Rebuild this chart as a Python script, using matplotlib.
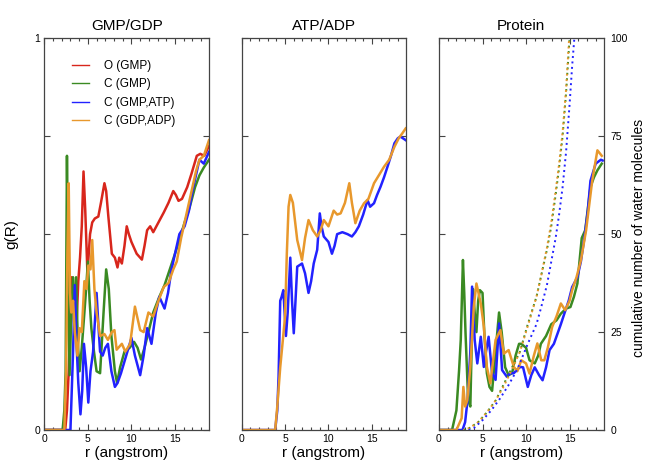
import matplotlib
matplotlib.use('Agg')
import matplotlib.pyplot as plt
from matplotlib.ticker import MultipleLocator
from matplotlib.lines import Line2D

plt.rcParams['font.family'] = ['Liberation Sans', 'DejaVu Sans']

# ---------------- data ----------------
titles = ['GMP/GDP', 'ATP/ADP', 'Protein']
labels = ['O (GMP)', 'C (GMP)', 'C (GMP,ATP)', 'C (GDP,ADP)']
colors = ['#d8261c', '#3a8a22', '#2222ff', '#e8982c']

# Panel 1: GMP/GDP
p1_red_r = [0, 2.4, 2.6, 2.8, 3.0, 3.15, 3.3, 3.5, 3.7, 3.9, 4.1, 4.3, 4.5, 4.7, 4.95, 5.25, 5.5, 5.8,
            6.2, 6.5, 6.9, 7.1, 7.35, 7.75, 8.1, 8.4, 8.6, 8.9, 9.2, 9.46, 9.7, 10.0, 10.6, 11.2, 11.5,
            11.8, 12.15, 12.5, 13.1, 13.7, 14.25, 14.8, 15.1, 15.4, 15.8, 16.4, 16.9, 17.5, 17.9, 18.35, 18.9]
p1_red_g = [0, 0, 0.05, 0.15, 0.30, 0.39, 0.33, 0.24, 0.27, 0.38, 0.44, 0.52, 0.66, 0.56, 0.40, 0.50, 0.53, 0.54,
            0.545, 0.58, 0.63, 0.61, 0.545, 0.45, 0.44, 0.415, 0.44, 0.425, 0.47, 0.52, 0.50, 0.48, 0.45, 0.435, 0.47,
            0.51, 0.52, 0.505, 0.53, 0.555, 0.58, 0.61, 0.60, 0.585, 0.59, 0.62, 0.655, 0.70, 0.705, 0.70, 0.725]

p1_green_r = [0, 2.1, 2.3, 2.45, 2.6, 2.75, 2.9, 3.1, 3.3, 3.45, 3.65, 3.85, 4.05, 4.3, 4.6, 4.8, 5.0, 5.2,
              5.4, 5.7, 6.0, 6.4, 6.8, 7.1, 7.4, 7.7, 8.1, 8.35, 8.7, 9.2, 9.8, 10.3, 10.7, 11.1, 11.5, 11.9,
              12.5, 13.2, 13.8, 14.4, 15.0, 15.5, 16.1, 16.7, 17.3, 17.8, 18.3, 18.9]
p1_green_g = [0, 0, 0.05, 0.15, 0.70, 0.35, 0.14, 0.30, 0.39, 0.26, 0.39, 0.22, 0.15, 0.21, 0.30, 0.36, 0.43, 0.33,
              0.26, 0.20, 0.15, 0.145, 0.30, 0.41, 0.36, 0.24, 0.15, 0.12, 0.16, 0.20, 0.21, 0.225, 0.21, 0.18, 0.21, 0.245,
              0.30, 0.34, 0.37, 0.41, 0.45, 0.485, 0.53, 0.57, 0.62, 0.65, 0.67, 0.69]

p1_blue_r = [0, 3.0, 3.15, 3.3, 3.5, 3.7, 3.9, 4.15, 4.35, 4.55, 4.8, 5.05, 5.3, 5.6, 6.0, 6.2, 6.4, 6.7, 7.0,
             7.3, 7.7, 8.1, 8.4, 8.8, 9.4, 10.0, 10.4, 11.0, 11.4, 11.8, 12.3, 12.8, 13.2, 13.8, 14.2, 14.6, 15.1,
             15.5, 16.1, 16.6, 17.0, 17.5, 17.8, 18.3, 18.9]
p1_blue_g = [0, 0, 0.10, 0.20, 0.37, 0.22, 0.12, 0.04, 0.10, 0.22, 0.16, 0.07, 0.15, 0.20, 0.35, 0.27, 0.20, 0.19, 0.21,
             0.22, 0.15, 0.11, 0.12, 0.145, 0.19, 0.235, 0.19, 0.14, 0.19, 0.26, 0.22, 0.30, 0.34, 0.31, 0.35, 0.41, 0.46,
             0.50, 0.52, 0.56, 0.61, 0.66, 0.69, 0.68, 0.71]

p1_orange_r = [0, 2.3, 2.5, 2.65, 2.8, 2.95, 3.1, 3.3, 3.5, 3.8, 4.05, 4.3, 4.6, 4.85, 5.05, 5.3, 5.5, 5.75,
               6.0, 6.4, 6.9, 7.3, 7.75, 8.05, 8.3, 8.9, 9.3, 9.85, 10.4, 11.0, 11.4, 11.95, 12.5, 13.1, 13.7,
               14.25, 14.8, 15.2, 15.7, 16.3, 16.9, 17.4, 17.8, 18.3, 18.6, 18.9]
p1_orange_g = [0, 0, 0.15, 0.45, 0.63, 0.35, 0.30, 0.33, 0.25, 0.19, 0.26, 0.25, 0.38, 0.36, 0.42, 0.41, 0.485, 0.36,
               0.30, 0.24, 0.245, 0.23, 0.25, 0.255, 0.205, 0.22, 0.20, 0.22, 0.315, 0.255, 0.25, 0.30, 0.29, 0.33, 0.365,
               0.375, 0.41, 0.43, 0.49, 0.55, 0.61, 0.66, 0.69, 0.70, 0.72, 0.74]

# Panel 2: ATP/ADP
p2_blue_r = [0, 3.86, 4.1, 4.25, 4.44, 4.6, 4.8, 5.1, 5.3, 5.6, 5.8, 6.0, 6.2, 6.4, 6.95, 7.3, 7.7, 8.0, 8.3,
             8.7, 9.0, 9.2, 9.46, 10.0, 10.4, 10.7, 11.0, 11.6, 12.2, 12.7, 13.1, 13.5, 14.0, 14.5, 14.8, 15.25,
             15.6, 16.0, 16.4, 16.8, 17.2, 17.6, 18.0, 18.3, 18.9]
p2_blue_g = [0, 0, 0.05, 0.136, 0.33, 0.34, 0.357, 0.24, 0.30, 0.44, 0.33, 0.247, 0.33, 0.417, 0.425, 0.40, 0.35, 0.38, 0.425,
             0.46, 0.553, 0.52, 0.494, 0.48, 0.45, 0.47, 0.50, 0.505, 0.50, 0.494, 0.505, 0.52, 0.55, 0.587, 0.57, 0.579,
             0.60, 0.621, 0.645, 0.672, 0.70, 0.732, 0.745, 0.749, 0.74]

p2_orange_r = [0, 3.86, 4.1, 4.44, 4.7, 5.0, 5.2, 5.4, 5.6, 5.9, 6.4, 6.95, 7.3, 7.7, 8.2, 8.7, 9.1, 9.46,
               10.0, 10.6, 11.0, 11.4, 11.9, 12.4, 12.7, 13.1, 13.6, 14.1, 14.6, 15.25, 15.8, 16.4, 17.0, 17.6,
               18.1, 18.5, 18.9]
p2_orange_g = [0, 0, 0.06, 0.16, 0.22, 0.29, 0.45, 0.57, 0.60, 0.58, 0.485, 0.434, 0.49, 0.536, 0.51, 0.494, 0.51, 0.536,
               0.52, 0.56, 0.55, 0.553, 0.58, 0.63, 0.58, 0.528, 0.56, 0.579, 0.59, 0.63, 0.65, 0.672, 0.69, 0.723,
               0.745, 0.757, 0.77]

# Panel 3: Protein (solid = g(R), dotted = cumulative number, right axis)
p3_green_r = [0, 1.5, 2.0, 2.3, 2.5, 2.75, 2.9, 3.05, 3.35, 3.6, 3.9, 4.1, 4.3, 4.5, 4.7, 5.0, 5.2, 5.5, 5.8,
              6.1, 6.5, 6.9, 7.2, 7.6, 8.0, 8.4, 8.8, 9.2, 9.45, 10.0, 10.4, 11.0, 11.4, 11.7, 12.3, 12.9, 13.5,
              14.0, 14.6, 15.1, 15.5, 15.9, 16.4, 16.8, 17.4, 17.8, 18.2, 18.7]
p3_green_g = [0, 0, 0.05, 0.15, 0.23, 0.434, 0.35, 0.246, 0.076, 0.06, 0.36, 0.30, 0.25, 0.33, 0.357, 0.35, 0.25, 0.145, 0.11,
              0.10, 0.20, 0.30, 0.25, 0.16, 0.14, 0.145, 0.19, 0.22, 0.22, 0.21, 0.178, 0.17, 0.19, 0.22, 0.24, 0.27, 0.28,
              0.297, 0.31, 0.314, 0.34, 0.374, 0.49, 0.51, 0.62, 0.645, 0.663, 0.68]

p3_blue_r = [0, 2.7, 3.0, 3.3, 3.6, 3.8, 4.1, 4.4, 4.8, 5.15, 5.4, 5.7, 6.1, 6.5, 6.9, 7.25, 7.8, 8.2, 8.6,
             9.0, 9.35, 9.66, 10.2, 10.6, 11.0, 11.5, 11.9, 12.3, 12.7, 13.2, 13.6, 14.0, 14.4, 14.9, 15.3, 15.9,
             16.3, 16.7, 17.1, 17.4, 18.0, 18.6, 18.8]
p3_blue_g = [0, 0, 0.02, 0.08, 0.20, 0.366, 0.23, 0.17, 0.238, 0.161, 0.20, 0.238, 0.145, 0.128, 0.272, 0.153, 0.136, 0.145, 0.145,
             0.155, 0.161, 0.16, 0.11, 0.14, 0.16, 0.14, 0.127, 0.16, 0.204, 0.22, 0.245, 0.27, 0.297, 0.33, 0.365, 0.39,
             0.43, 0.49, 0.56, 0.636, 0.68, 0.69, 0.688]

p3_orange_r = [0, 2.0, 2.6, 2.8, 3.0, 3.25, 3.6, 4.0, 4.3, 4.8, 5.15, 5.5, 5.9, 6.5, 7.05, 7.45, 8.0, 8.6,
               9.0, 9.45, 10.0, 10.4, 10.9, 11.3, 11.75, 12.1, 12.5, 13.0, 13.5, 14.0, 14.5, 15.0, 15.3, 15.8,
               16.3, 16.9, 17.6, 18.2, 18.7]
p3_orange_g = [0, 0, 0.03, 0.11, 0.06, 0.076, 0.161, 0.315, 0.374, 0.323, 0.264, 0.161, 0.119, 0.23, 0.255, 0.195, 0.204, 0.161,
               0.15, 0.178, 0.17, 0.144, 0.19, 0.221, 0.178, 0.178, 0.21, 0.263, 0.29, 0.323, 0.306, 0.33, 0.357, 0.39,
               0.433, 0.51, 0.636, 0.714, 0.70]

cum_green_r = [2.8, 3.5, 4.5, 5.5, 6.5, 7.4, 8.4, 9.3, 10.2, 11.2, 11.7, 12.4, 12.9, 13.4, 13.8, 14.2, 14.6, 15.0, 15.2]
cum_green_n = [0, 0.5, 2.0, 4.5, 7.5, 11.5, 16, 20, 27, 34, 39, 46, 52, 60, 67, 75, 86, 100, 106]
cum_orange_r = [2.8, 3.5, 4.5, 5.5, 6.5, 7.4, 8.4, 9.3, 10.2, 11.2, 11.7, 12.4, 12.9, 13.4, 13.8, 14.2, 14.6, 14.95, 15.2]
cum_orange_n = [0, 0.5, 2.0, 4.5, 7.5, 11.0, 15.5, 20, 26.5, 34, 39, 46.5, 53, 61, 68, 76, 87, 100, 107]
cum_blue_r = [3.4, 4.0, 5.0, 6.0, 7.0, 8.0, 9.0, 10.2, 11.2, 11.7, 12.4, 12.9, 13.4, 13.8, 14.2, 14.6, 15.0, 15.3, 15.55, 15.8]
cum_blue_n = [0, 0.5, 2.5, 5, 8, 11.5, 15.5, 22, 27, 31, 37, 43, 49, 55, 62, 71, 83, 93, 100, 106]

xmax = 18.9
cum_ticks = [0, 25, 50, 75, 100]

# ---------------- figure ----------------
W, H = 648, 463
fig = plt.figure(figsize=(W / 100, H / 100), dpi=100)

def rect(x0, x1, y0=38.3, y1=430.0):
    return [x0 / W, (H - y1) / H, (x1 - x0) / W, (y1 - y0) / H]

ax1 = fig.add_axes(rect(44.3, 209.0))
ax2 = fig.add_axes(rect(241.7, 405.7))
ax3 = fig.add_axes(rect(439.0, 603.5))

spine_col = '#444444'
lw = 1.8

def style(ax, title):
    ax.set_xlim(0, xmax)
    ax.set_ylim(0, 1)
    ax.xaxis.set_major_locator(MultipleLocator(5))
    ax.xaxis.set_minor_locator(MultipleLocator(1))
    ax.set_yticks([0, 0.25, 0.5, 0.75, 1.0])
    ax.set_yticklabels([])
    ax.tick_params(which='both', direction='in', top=True, right=True, colors=spine_col,
                   labelcolor='black', labelsize=7.5, width=0.8)
    ax.tick_params(which='major', length=4, pad=3)
    ax.tick_params(which='minor', length=2.5)
    for s in ax.spines.values():
        s.set_color(spine_col)
        s.set_linewidth(0.9)
    ax.set_title(title, fontsize=11, pad=6)
    ax.set_xlabel('r (angstrom)', fontsize=11, labelpad=1)

for ax, t in zip([ax1, ax2, ax3], titles):
    style(ax, t)

ax1.set_yticklabels(['0', '', '', '', '1'])
ax1.set_ylabel('g(R)', fontsize=11)
ax1.yaxis.set_label_coords(-0.16, 0.5)

# panel 1
ax1.plot(p1_red_r, p1_red_g, color=colors[0], lw=lw)
ax1.plot(p1_green_r, p1_green_g, color=colors[1], lw=lw)
ax1.plot(p1_blue_r, p1_blue_g, color=colors[2], lw=lw)
ax1.plot(p1_orange_r, p1_orange_g, color=colors[3], lw=lw)

handles = [Line2D([], [], color=c, lw=1.0) for c in colors]
ax1.legend(handles, labels, loc='upper left', bbox_to_anchor=(0.166, 0.945), frameon=False,
           fontsize=8.5, borderpad=0, borderaxespad=0, handlelength=1.5, handletextpad=1.2,
           labelspacing=0.55)

# panel 2
ax2.plot(p2_blue_r, p2_blue_g, color=colors[2], lw=lw)
ax2.plot(p2_orange_r, p2_orange_g, color=colors[3], lw=lw)

# panel 3
ax3.plot(p3_green_r, p3_green_g, color=colors[1], lw=lw)
ax3.plot(p3_blue_r, p3_blue_g, color=colors[2], lw=lw)
ax3.plot(p3_orange_r, p3_orange_g, color=colors[3], lw=lw)

ax3t = ax3.twinx()
ax3t.set_ylim(0, 100)
ax3t.set_yticks(cum_ticks)
ax3t.set_yticklabels([str(v) for v in cum_ticks])
ax3t.tick_params(direction='in', length=4, width=0.8, colors=spine_col, labelcolor='black',
                 labelsize=7.5, pad=5)
for s in ax3t.spines.values():
    s.set_visible(False)
ax3t.plot(cum_green_r, cum_green_n, color=colors[1], lw=1.4, ls=(0, (1, 1.8)))
ax3t.plot(cum_orange_r, cum_orange_n, color=colors[3], lw=1.4, ls=(0.5, (1, 1.8)))
ax3t.plot(cum_blue_r, cum_blue_n, color=colors[2], lw=1.4, ls=(0, (1, 1.8)))
ax3t.set_ylabel('cumulative number of water molecules', fontsize=10, rotation=90)
ax3t.yaxis.set_label_coords(1.175, 0.49)

fig.savefig('out.png', dpi=100)
